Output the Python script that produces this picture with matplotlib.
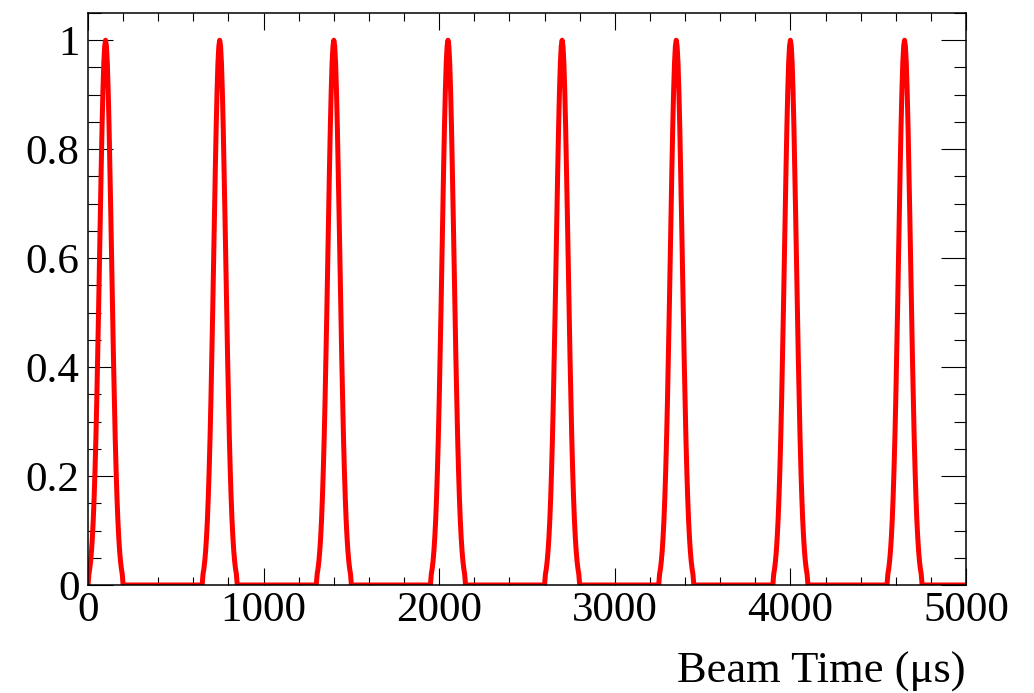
import matplotlib
matplotlib.use("Agg")
import matplotlib.pyplot as plt
import matplotlib.ticker as mticker
import numpy as np

plt.rcParams.update({
    "font.family": ["Liberation Serif", "DejaVu Serif"],
    "font.size": 31,
})

# centros dos pulsos (us)
peak_times = [100, 750, 1400, 2050, 2700, 3350, 4000, 4650]
# perfil de um pulso: deslocamento (us) -> amplitude
pulse_offsets = [-100, -95, -90, -85, -80, -75, -70, -65, -60, -55, -50, -45, -40,
                 -35, -30, -25, -20, -15, -10, -5, 0, 5, 10, 15, 20, 25, 30, 35,
                 40, 45, 50, 55, 60, 65, 70, 75, 80, 85, 90, 95, 100]
pulse_values = [0.0, 0.02, 0.03, 0.044, 0.063, 0.088, 0.12, 0.161, 0.211, 0.27, 0.339,
                0.417, 0.5, 0.589, 0.678, 0.763, 0.841, 0.907, 0.958, 0.989, 1.0,
                0.989, 0.958, 0.907, 0.841, 0.763, 0.678, 0.589, 0.5, 0.417, 0.339,
                0.27, 0.211, 0.161, 0.12, 0.088, 0.063, 0.044, 0.03, 0.02, 0.0]
x_range = [0, 5000]
y_range = [0, 1.05]

xs = [x_range[0]]
ys = [0.0]
for c in peak_times:
    xs.extend(c + o for o in pulse_offsets)
    ys.extend(pulse_values)
xs.append(x_range[1])
ys.append(0.0)
xs = np.array(xs, dtype=float)
ys = np.array(ys)

fig = plt.figure(figsize=(10.34, 6.93), dpi=100)
ax = fig.add_axes([88 / 1034, 1 - 585 / 693, (966 - 88) / 1034, (585 - 13) / 693])
ax.plot(xs, ys, color="#ff0000", linewidth=3.6, solid_joinstyle="round")

ax.set_xlim(*x_range)
ax.set_ylim(*y_range)
ax.xaxis.set_major_locator(mticker.MultipleLocator(1000))
ax.xaxis.set_minor_locator(mticker.MultipleLocator(200))
ax.yaxis.set_major_locator(mticker.MultipleLocator(0.2))
ax.yaxis.set_minor_locator(mticker.MultipleLocator(0.05))
ax.yaxis.set_major_formatter(mticker.FuncFormatter(lambda v, _: f"{v:g}"))
ax.xaxis.set_major_formatter(mticker.FuncFormatter(lambda v, _: f"{v:g}"))

ax.tick_params(which="both", direction="in", top=True, right=True, width=0.8)
ax.tick_params(axis="x", which="major", length=12, pad=5)
ax.tick_params(axis="x", which="minor", length=6)
ax.tick_params(axis="y", which="major", length=18, pad=6)
ax.tick_params(axis="y", which="minor", length=9)
for s in ax.spines.values():
    s.set_linewidth(1.1)

ax.set_xlabel("Beam Time (μs)", loc="right", fontsize=32)
ax.xaxis.label.set_va("baseline")
ax.xaxis.set_label_coords(1.0, (585 - 683) / 572)

fig.savefig("out.png", dpi=100)
plt.close(fig)
